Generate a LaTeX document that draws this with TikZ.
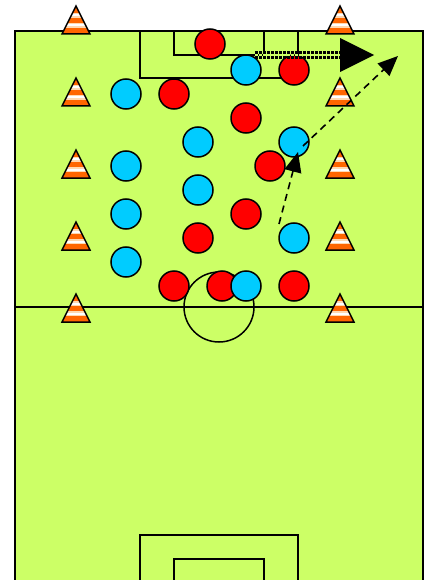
\documentclass[tikz,border=0pt]{standalone}
\usetikzlibrary{arrows.meta}
\definecolor{pitch}{RGB}{204,255,102}
\definecolor{teamblue}{RGB}{0,204,255}
\definecolor{teamred}{RGB}{255,0,0}
\definecolor{coneorange}{RGB}{255,102,0}
\tikzset{player/.style={
    circle,
    draw,
    line width=1.5pt,
    inner sep=0pt,
    minimum size=30pt
  },
  red/.style={player,fill=teamred},
  blue/.style={player,fill=teamblue},
  fieldline/.style={line width=1.5pt},
  runline/.style={line width=1.6pt,dash pattern=on 7pt off 5pt,
    -{Triangle[length=20pt,width=17pt]}},
  passline/.style={line width=2.2pt,double=pitch,double distance=2.8pt,
    dash pattern=on 2.5pt off 1.5pt},
  cone/.pic={
    \begin{scope}
      \clip (-14,0) -- (0,-28) -- (14,0) -- cycle;
      \fill[coneorange] (-14,0) rectangle (14,-28);
      \fill[orange!30] (-14,-6) rectangle (14,-11);
      \fill[white] (-14,-7.5) rectangle (14,-9.5);
      \fill[orange!30] (-14,-16) rectangle (14,-21);
      \fill[white] (-14,-17.5) rectangle (14,-19.5);
    \end{scope}
    \draw[line width=1.5pt,line join=miter] (-14,0) -- (0,-28) -- (14,0) -- cycle;
  }
}
\begin{document}
\begin{tikzpicture}[x=1pt,y=-1pt]
  \useasboundingbox (0,0) rectangle (430,580);
  \clip (0,0) rectangle (430,580);
  % pitch
  \filldraw[fieldline,fill=pitch] (15,31) rectangle (423,583);
  \draw[fieldline] (15,307) -- (423,307);
  \draw[fieldline] (219,307) circle (35);
  \draw[fieldline] (140,31) rectangle (298,78);
  \draw[fieldline] (174,31) rectangle (264,55);
  \draw[fieldline] (140,590) rectangle (298,535);
  \draw[fieldline] (174,590) rectangle (264,559);
  % players
  \node [red] (r1) at (210,44) {};
  \node [blue] (b1) at (246,70) {};
  \node [red] (r2) at (294,70) {};
  \node [blue] (b2) at (126,94) {};
  \node [red] (r3) at (174,94) {};
  \node [red] (r4) at (246,118) {};
  \node [blue] (b3) at (198,142) {};
  \node [blue] (b4) at (294,142) {};
  \node [blue] (b5) at (126,166) {};
  \node [red] (r5) at (270,166) {};
  \node [blue] (b6) at (198,190) {};
  \node [blue] (b7) at (126,214) {};
  \node [red] (r6) at (246,214) {};
  \node [red] (r7) at (198,238) {};
  \node [blue] (b8) at (294,238) {};
  \node [blue] (b9) at (126,262) {};
  \node [red] (r8) at (174,286) {};
  \node [red] (r9) at (222,286) {};
  \node [blue] (b10) at (246,286) {};
  \node [red] (r10) at (294,286) {};
  % cones
  \pic at (76,34) {cone};
  \pic at (340,34) {cone};
  \pic at (76,106) {cone};
  \pic at (340,106) {cone};
  \pic at (76,178) {cone};
  \pic at (340,178) {cone};
  \pic at (76,250) {cone};
  \pic at (340,250) {cone};
  \pic at (76,322) {cone};
  \pic at (340,322) {cone};
  % runs and pass
  \coordinate (passA) at (255,55);
  \coordinate (passB) at (340,55);
  \coordinate (passC) at (374,55);
  \coordinate (runA) at (279,224);
  \coordinate (runB) at (298,152);
  \coordinate (runC) at (303,146);
  \coordinate (runD) at (398,56);
  \draw[passline] (passA) -- (passB);
  \fill ([yshift=17pt]passB) -- (passC) -- ([yshift=-17pt]passB) -- cycle;
  \draw[runline] (runA) -- (runB);
  \draw[runline] (runC) -- (runD);
\end{tikzpicture}
\end{document}
